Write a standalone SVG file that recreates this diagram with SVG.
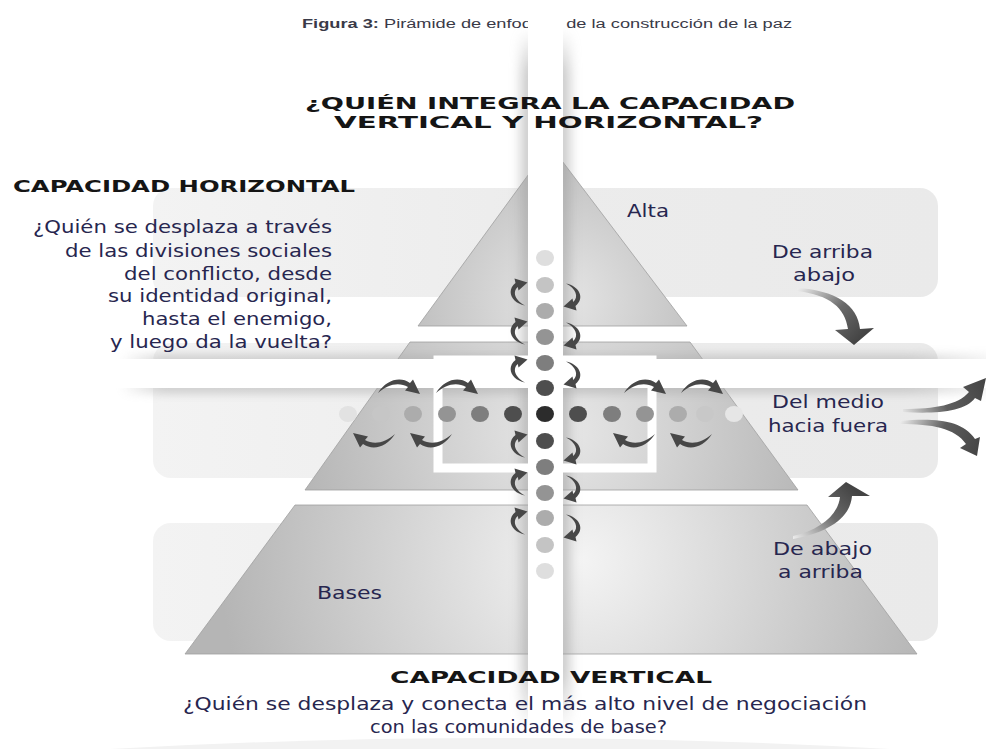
<svg xmlns="http://www.w3.org/2000/svg" xmlns:xlink="http://www.w3.org/1999/xlink" width="986" height="749" viewBox="0 0 986 749">
<defs>
<style>
.t{font-family:"DejaVu Sans",Verdana,sans-serif;font-size:18px;fill:#27264f}
.h{font-family:"DejaVu Sans",Verdana,sans-serif;font-weight:bold;fill:#151515}
.cap{font-family:"Liberation Sans",Arial,sans-serif;font-size:12.5px;fill:#3a3a48}
.panel{fill:url(#panelG)}
.pyr{stroke:#a0a0a0;stroke-width:0.8}
.sa{fill:#474747}
</style>
<linearGradient id="panelG" x1="0" y1="0" x2="1" y2="0">
<stop offset="0" stop-color="#f3f3f3"/><stop offset="0.5" stop-color="#ececec"/><stop offset="1" stop-color="#eaeaea"/>
</linearGradient>
<radialGradient id="pyrTop" gradientUnits="userSpaceOnUse" cx="560" cy="300" r="190">
<stop offset="0" stop-color="#e6e6e6"/><stop offset="1" stop-color="#b5b5b5"/>
</radialGradient>
<radialGradient id="pyrMid" gradientUnits="userSpaceOnUse" cx="560" cy="430" r="270">
<stop offset="0" stop-color="#e8e8e8"/><stop offset="1" stop-color="#b4b4b4"/>
</radialGradient>
<radialGradient id="pyrBot" gradientUnits="userSpaceOnUse" cx="580" cy="560" r="360">
<stop offset="0" stop-color="#f4f4f4"/><stop offset="1" stop-color="#b5b5b5"/>
</radialGradient>
<linearGradient id="gA" gradientUnits="userSpaceOnUse" x1="797" y1="290" x2="855" y2="344">
<stop offset="0" stop-color="#ececec"/><stop offset="0.55" stop-color="#6a6a6a"/><stop offset="1" stop-color="#444"/>
</linearGradient>
<linearGradient id="gB" gradientUnits="userSpaceOnUse" x1="793" y1="538" x2="846" y2="482">
<stop offset="0" stop-color="#ececec"/><stop offset="0.55" stop-color="#6a6a6a"/><stop offset="1" stop-color="#444"/>
</linearGradient>
<linearGradient id="gC" gradientUnits="userSpaceOnUse" x1="900" y1="410" x2="985" y2="380">
<stop offset="0" stop-color="#ececec"/><stop offset="0.5" stop-color="#5e5e5e"/><stop offset="1" stop-color="#444"/>
</linearGradient>
<linearGradient id="gD" gradientUnits="userSpaceOnUse" x1="900" y1="422" x2="978" y2="456">
<stop offset="0" stop-color="#ececec"/><stop offset="0.5" stop-color="#5e5e5e"/><stop offset="1" stop-color="#444"/>
</linearGradient>
<linearGradient id="vFade" x1="0" y1="0" x2="0" y2="1">
<stop offset="0" stop-color="#9a9a9a" stop-opacity="0"/><stop offset="0.06" stop-color="#9a9a9a" stop-opacity="1"/><stop offset="0.92" stop-color="#9a9a9a" stop-opacity="1"/><stop offset="1" stop-color="#9a9a9a" stop-opacity="0"/>
</linearGradient>
<linearGradient id="hFade" x1="0" y1="0" x2="1" y2="0">
<stop offset="0" stop-color="#a8a8a8" stop-opacity="0"/><stop offset="0.05" stop-color="#a8a8a8" stop-opacity="1"/><stop offset="0.9" stop-color="#a8a8a8" stop-opacity="1"/><stop offset="1" stop-color="#a8a8a8" stop-opacity="0.2"/>
</linearGradient>
<filter id="blur" x="-30%" y="-20%" width="160%" height="140%"><feGaussianBlur stdDeviation="6"/></filter>
<filter id="blur2" x="-20%" y="-50%" width="140%" height="200%"><feGaussianBlur stdDeviation="4"/></filter>
<path id="ca" d="M19,27.5 C6,25 -0.5,13 9.5,5 L8.5,0.5 L21.5,4.5 L12.5,12.5 L11.8,9 C6,14 9,22.5 19,27.5 Z"/>
<path id="ha" d="M0,16 C8,3 22,-1 32,6 L35,2.5 L42,17 L27,13.5 L30,10 C21,5 10,7 0,16 Z"/>
</defs>

<rect width="986" height="749" fill="#ffffff"/>

<g id="panels">
<rect class="panel" x="153" y="188" width="785" height="109" rx="18"/>
<rect class="panel" x="153" y="343" width="785" height="135" rx="18"/>
<rect class="panel" x="153" y="523" width="785" height="118" rx="18"/>
</g>

<g id="pyramid">
<polygon id="level-alta" class="pyr" fill="url(#pyrTop)" points="550,145 687,326 418,326"/>
<polygon id="level-medio" class="pyr" fill="url(#pyrMid)" points="410,342 690,342 798,490 305,490"/>
<polygon id="level-bases" class="pyr" fill="url(#pyrBot)" points="295,505 807,505 917,654 185,654"/>
</g>

<path d="M110,749 Q500,727 890,749 Z" fill="#f2f2f2"/>

<text class="cap" x="302" y="28" textLength="490" lengthAdjust="spacingAndGlyphs"><tspan font-weight="bold">Figura 3:</tspan> Pirámide de enfoques de la construcción de la paz</text>

<g id="bands">
<rect x="521" y="30" width="49" height="700" fill="url(#vFade)" opacity="0.5" filter="url(#blur)"/>
<rect x="120" y="354" width="875" height="40" fill="url(#hFade)" opacity="0.45" filter="url(#blur2)"/>
<rect x="100" y="359" width="886" height="29" fill="#ffffff"/>
<rect x="528" y="0" width="35" height="735" fill="#ffffff"/>
<rect x="438" y="360" width="214" height="108" fill="none" stroke="#ffffff" stroke-width="9"/>
</g>

<g id="dots">
<ellipse cx="545" cy="258" rx="9" ry="8" fill="#dedede"/>
<ellipse cx="545" cy="285" rx="9" ry="8" fill="#c4c4c4"/>
<ellipse cx="545" cy="311" rx="9" ry="8" fill="#acacac"/>
<ellipse cx="545" cy="337" rx="9" ry="8" fill="#949494"/>
<ellipse cx="545" cy="363" rx="9" ry="8" fill="#7e7e7e"/>
<ellipse cx="545" cy="388" rx="9" ry="8" fill="#4e4e4e"/>
<ellipse cx="545" cy="414" rx="9" ry="8" fill="#2c2c2c"/>
<ellipse cx="545" cy="441" rx="9" ry="8" fill="#4e4e4e"/>
<ellipse cx="545" cy="467" rx="9" ry="8" fill="#7e7e7e"/>
<ellipse cx="545" cy="493" rx="9" ry="8" fill="#949494"/>
<ellipse cx="545" cy="518" rx="9" ry="8" fill="#acacac"/>
<ellipse cx="545" cy="545" rx="9" ry="8" fill="#c4c4c4"/>
<ellipse cx="545" cy="571" rx="9" ry="8" fill="#dedede"/>
<ellipse cx="513" cy="414" rx="9" ry="8" fill="#4e4e4e"/>
<ellipse cx="480" cy="414" rx="9" ry="8" fill="#7e7e7e"/>
<ellipse cx="447" cy="414" rx="9" ry="8" fill="#949494"/>
<ellipse cx="413" cy="414" rx="9" ry="8" fill="#acacac"/>
<ellipse cx="381" cy="414" rx="9" ry="8" fill="#c6c6c6"/>
<ellipse cx="348" cy="414" rx="9" ry="8" fill="#e2e2e2"/>
<ellipse cx="578" cy="414" rx="9" ry="8" fill="#4e4e4e"/>
<ellipse cx="612" cy="414" rx="9" ry="8" fill="#7e7e7e"/>
<ellipse cx="645" cy="414" rx="9" ry="8" fill="#949494"/>
<ellipse cx="678" cy="414" rx="9" ry="8" fill="#acacac"/>
<ellipse cx="705" cy="414" rx="9" ry="8" fill="#c8c8c8"/>
<ellipse cx="734" cy="414" rx="9" ry="8" fill="#e6e6e6"/>
</g>

<g id="connectors">
<use href="#ca" class="sa" transform="translate(506,278)"/>
<use href="#ca" class="sa" transform="translate(506,317)"/>
<use href="#ca" class="sa" transform="translate(506,355)"/>
<use href="#ca" class="sa" transform="translate(506,430)"/>
<use href="#ca" class="sa" transform="translate(506,468)"/>
<use href="#ca" class="sa" transform="translate(506,507)"/>
<use href="#ca" class="sa" transform="translate(585,311) rotate(180)"/>
<use href="#ca" class="sa" transform="translate(585,350) rotate(180)"/>
<use href="#ca" class="sa" transform="translate(585,389) rotate(180)"/>
<use href="#ca" class="sa" transform="translate(585,465) rotate(180)"/>
<use href="#ca" class="sa" transform="translate(585,503) rotate(180)"/>
<use href="#ca" class="sa" transform="translate(585,542) rotate(180)"/>
<use href="#ha" class="sa" transform="translate(378,377)"/>
<use href="#ha" class="sa" transform="translate(436,377)"/>
<use href="#ha" class="sa" transform="translate(624,377)"/>
<use href="#ha" class="sa" transform="translate(681,377)"/>
<use href="#ha" class="sa" transform="translate(395,450) rotate(180)"/>
<use href="#ha" class="sa" transform="translate(452,450) rotate(180)"/>
<use href="#ha" class="sa" transform="translate(655,450) rotate(180)"/>
<use href="#ha" class="sa" transform="translate(712,450) rotate(180)"/>
<path id="arrow-arriba" fill="url(#gA)" d="M797,288 C835,290 858,305 860,329 L874,328 L854,345 L835,330 L848,329 C845,308 830,295 797,291 Z"/>
<path id="arrow-abajo" fill="url(#gB)" d="M793,539 C825,533 850,520 852,496 L870,496 L846,482 L828,497 L840,497 C838,515 820,530 793,536 Z"/>
<path id="arrow-medio-up" fill="url(#gC)" d="M903,412 C935,414 965,412 975,398 L981,401 L986,378 L963,387 L969,392 C958,405 935,409 903,409 Z"/>
<path id="arrow-medio-down" fill="url(#gD)" d="M900,421 C935,418 962,420 975,439 L980,437 L977,456 L960,448 L966,444 C955,428 932,424 900,424 Z"/>
</g>

<g id="title">
<text class="h" x="305" y="109" font-size="16" textLength="490" lengthAdjust="spacingAndGlyphs">¿QUIÉN INTEGRA LA CAPACIDAD</text>
<text class="h" x="334" y="128" font-size="16" textLength="429" lengthAdjust="spacingAndGlyphs">VERTICAL Y HORIZONTAL?</text>
</g>

<g id="capacidad-horizontal">
<text class="h" x="13" y="192" font-size="16" textLength="342" lengthAdjust="spacingAndGlyphs">CAPACIDAD HORIZONTAL</text>
<text class="t" x="33" y="233" textLength="299" lengthAdjust="spacingAndGlyphs">¿Quién se desplaza a través</text>
<text class="t" x="65" y="257" textLength="267" lengthAdjust="spacingAndGlyphs">de las divisiones sociales</text>
<text class="t" x="124" y="280" textLength="208" lengthAdjust="spacingAndGlyphs">del conflicto, desde</text>
<text class="t" x="108" y="302" textLength="224" lengthAdjust="spacingAndGlyphs">su identidad original,</text>
<text class="t" x="142" y="325" textLength="190" lengthAdjust="spacingAndGlyphs">hasta el enemigo,</text>
<text class="t" x="110" y="348" textLength="222" lengthAdjust="spacingAndGlyphs">y luego da la vuelta?</text>
</g>

<g id="label-alta"><text class="t" x="627" y="217" textLength="42" lengthAdjust="spacingAndGlyphs">Alta</text></g>
<g id="label-bases"><text class="t" x="317" y="599" textLength="65" lengthAdjust="spacingAndGlyphs">Bases</text></g>

<g id="label-arriba-abajo">
<text class="t" x="772" y="258" textLength="101" lengthAdjust="spacingAndGlyphs">De arriba</text>
<text class="t" x="793" y="281" textLength="62" lengthAdjust="spacingAndGlyphs">abajo</text>
</g>
<g id="label-medio">
<text class="t" x="772" y="408" textLength="112" lengthAdjust="spacingAndGlyphs">Del medio</text>
<text class="t" x="768" y="432" textLength="120" lengthAdjust="spacingAndGlyphs">hacia fuera</text>
</g>
<g id="label-abajo-arriba">
<text class="t" x="773" y="555" textLength="99" lengthAdjust="spacingAndGlyphs">De abajo</text>
<text class="t" x="778" y="578" textLength="85" lengthAdjust="spacingAndGlyphs">a arriba</text>
</g>

<g id="capacidad-vertical">
<text class="h" x="390" y="683" font-size="16" textLength="322" lengthAdjust="spacingAndGlyphs">CAPACIDAD VERTICAL</text>
<text class="t" x="183" y="710" textLength="684" lengthAdjust="spacingAndGlyphs">¿Quién se desplaza y conecta el más alto nivel de negociación</text>
<text class="t" x="370" y="733" textLength="297" lengthAdjust="spacingAndGlyphs">con las comunidades de base?</text>
</g>
</svg>
